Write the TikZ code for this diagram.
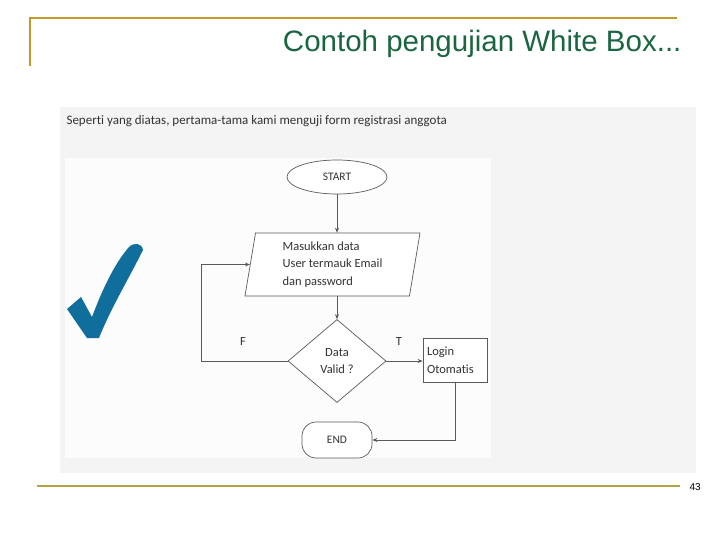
\documentclass[tikz,border=0pt]{standalone}
\usepackage{fontspec}
\setmainfont{Liberation Sans}
\newfontfamily\shotfont[Ligatures=NoCommon]{Carlito}
\usetikzlibrary{positioning,arrows.meta,shapes.geometric}
\definecolor{cgold}{HTML}{C39B2B}
\definecolor{colive}{HTML}{B3A445}
\definecolor{ctitle}{HTML}{1A6640}
\definecolor{ccheck}{HTML}{0F6E9C}
\definecolor{cline}{HTML}{5A5A5A}
\definecolor{cpanel}{HTML}{F4F4F4}
\definecolor{cinner}{HTML}{FCFCFC}

\begin{document}
\begin{tikzpicture}[x=1pt, y=-1pt,
  font=\shotfont\fontsize{12.5}{17.5}\selectfont,
  fc/.style={draw=cline, line width=0.7pt, fill=white, inner sep=0pt, text=black!80},
  term/.style={fc, ellipse, minimum width=100pt, minimum height=34pt, font=\shotfont\fontsize{11.5}{14}\selectfont},
  io/.style={fc, trapezium, trapezium left angle=77, trapezium right angle=103,
    trapezium stretches body, minimum width=175pt, minimum height=63pt, align=left},
  dec/.style={fc, diamond, minimum width=98pt, minimum height=83pt, align=center},
  proc/.style={fc, rectangle, minimum width=64pt, minimum height=44pt, text width=56pt, align=left},
  stop/.style={fc, rectangle, rounded corners=14pt, minimum width=70pt, minimum height=36pt, font=\shotfont\fontsize{11.5}{14}\selectfont},
  arr/.style={draw=cline, line width=0.7pt, -{Stealth[length=5pt,width=4pt]}},
  lbl/.style={text=black!80},
]
\useasboundingbox (0,0) rectangle (720,540);
% ---------- slide frame ----------
\draw[cgold, line width=2.5pt] (30,66) -- (30,18) -- (677,18);
\node[anchor=east, text=ctitle, font=\rmfamily\fontsize{29.5}{32}\selectfont] (title) at (685,44) {Contoh pengujian White Box...};
\draw[colive, line width=2pt] (37,486) -- (680,486);
\node[anchor=west, font=\rmfamily\fontsize{10}{12}\selectfont] (page) at (686,487) {43};
% ---------- screenshot ----------
\fill[cpanel] (60,107) rectangle (696,473);
\fill[cinner] (65,158) rectangle (491,458);
\node[anchor=west, text=black!80, font=\shotfont\fontsize{13}{15}\selectfont] (intro) at (63,121) {Seperti yang diatas, pertama-tama kami menguji form registrasi anggota};
\fill[ccheck] (67,309) -- (81,297) -- (92,317) .. controls (104,285) and (116,262) .. (129,247)
  .. controls (134,242) and (142,243) .. (143,250) .. controls (128,280) and (110,310) .. (99,338)
  -- (87,338) -- cycle;
% ---------- flowchart ----------
\node[term] (start) at (337,177) {START};
\node[io] (inp) at (332.5,264.5) {Masukkan data\\User termauk Email\\dan password};
\node[dec] (valid) at (337,361) {Data\\Valid ?};
\node[proc] (login) at (455,360) {Login\\Otomatis};
\node[stop] (end) at (337,440) {END};
\node[lbl] (t) at (399,341) {T};
\node[lbl] (f) at (243,341) {F};
\draw[arr] (start) -- (start |- inp.north);
\draw[arr] (inp.south -| valid) -- (valid.north);
\draw[arr] (valid.east) -- (login.west |- valid.east);
\draw[arr] (login.south) |- (end.east);
\draw[arr] (valid.west) -- ++(-86,0) |- (inp.west);
\end{tikzpicture}
\end{document}
